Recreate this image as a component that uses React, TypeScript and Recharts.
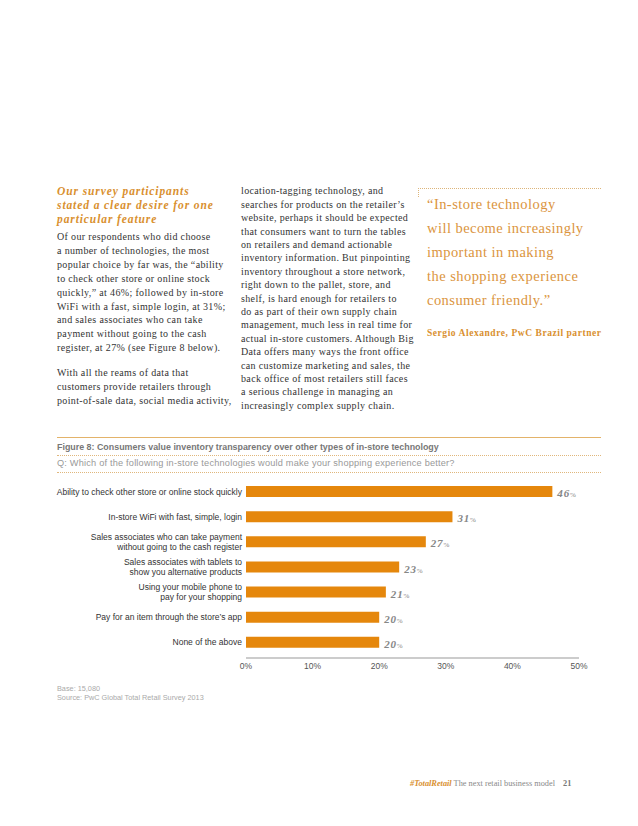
import React from 'react';
import { BarChart, Bar, XAxis, YAxis, LabelList } from 'recharts';

const categories = [
  'Ability to check other store or online stock quickly',
  'In-store WiFi with fast, simple, login',
  'Sales associates who can take payment\nwithout going to the cash register',
  'Sales associates with tablets to\nshow you alternative products',
  'Using your mobile phone to\npay for your shopping',
  "Pay for an item through the store\u2019s app",
  'None of the above',
];
const values = [46, 31, 27, 23, 21, 20, 20];
const xTicks = [0, 10, 20, 30, 40, 50];

const headingLines = ['Our survey participants', 'stated a clear desire for one', 'particular feature'];
const leftPara1 = [
  'Of our respondents who did choose',
  'a number of technologies, the most',
  'popular choice by far was, the \u201cability',
  'to check other store or online stock',
  'quickly,\u201d at 46%; followed by in-store',
  'WiFi with a fast, simple login, at 31%;',
  'and sales associates who can take',
  'payment without going to the cash',
  'register, at 27% (see Figure 8 below).',
];
const leftPara2 = [
  'With all the reams of data that',
  'customers provide retailers through',
  'point-of-sale data, social media activity,',
];
const middleLines = [
  'location-tagging technology, and',
  'searches for products on the retailer\u2019s',
  'website, perhaps it should be expected',
  'that consumers want to turn the tables',
  'on retailers and demand actionable',
  'inventory information. But pinpointing',
  'inventory throughout a store network,',
  'right down to the pallet, store, and',
  'shelf, is hard enough for retailers to',
  'do as part of their own supply chain',
  'management, much less in real time for',
  'actual in-store customers. Although Big',
  'Data offers many ways the front office',
  'can customize marketing and sales, the',
  'back office of most retailers still faces',
  'a serious challenge in managing an',
  'increasingly complex supply chain.',
];
const quoteLines = [
  '\u201cIn-store technology',
  'will become increasingly',
  'important in making',
  'the shopping experience',
  'consumer friendly.\u201d',
];

const data = categories.map((name, i) => ({ name, value: values[i] }));

const ORANGE = '#E5870C';
const TEXT_ORANGE = '#D9902F';
const SERIF = '"Liberation Serif", "Times New Roman", serif';
const SANS = '"Liberation Sans", Arial, sans-serif';

const CategoryTick = (props: any) => {
  const { x, y, payload } = props;
  const lines: string[] = String(payload.value).split('\n');
  const lh = 10;
  const start = y - ((lines.length - 1) * lh) / 2;
  return (
    <text x={x} y={start} textAnchor="end" fill="#333" fontSize={8.5} fontFamily={SANS}>
      {lines.map((l, i) => (
        <tspan key={i} x={x} y={start + i * lh} dy="0.35em">{l}</tspan>
      ))}
    </text>
  );
};

const ValueLabel = (props: any) => {
  const { x, y, width, height, value } = props;
  return (
    <text x={x + width + 5} y={y + height / 2} dy="0.35em" fill="#868686" fontFamily={SERIF}>
      <tspan fontSize={11} fontWeight="bold" fontStyle="italic" letterSpacing={0.8}>{value}</tspan>
      <tspan fontSize={7}>%</tspan>
    </text>
  );
};

const Lines = ({ lines, top, left, lh, style }: any) => (
  <div style={{ position: 'absolute', top, left, lineHeight: `${lh}px`, whiteSpace: 'nowrap', ...style }}>
    {lines.map((l: string, i: number) => (
      <div key={i}>{l}</div>
    ))}
  </div>
);

const bodyStyle = { fontFamily: SERIF, fontSize: 10, color: '#333', letterSpacing: 0.35 };

const App = () => {
  return (
    <div style={{ position: 'absolute', left: 0, top: 0, width: 638, height: 826, background: '#fff', overflow: 'hidden' }}>
      {/* left column */}
      <Lines lines={headingLines} top={184} left={57} lh={14}
        style={{ fontFamily: SERIF, fontSize: 11.5, fontWeight: 'bold', fontStyle: 'italic', color: TEXT_ORANGE, letterSpacing: 0.9 }} />
      <Lines lines={leftPara1} top={230} left={57} lh={13.9} style={bodyStyle} />
      <Lines lines={leftPara2} top={366} left={57} lh={13.9} style={bodyStyle} />

      {/* middle column */}
      <Lines lines={middleLines} top={184.3} left={241} lh={13.4} style={bodyStyle} />

      {/* quote */}
      <div style={{ position: 'absolute', left: 418, top: 188, width: 183, borderTop: '1px dotted #DDB57A' }} />
      <div style={{ position: 'absolute', left: 418, top: 188, height: 9, borderLeft: '1px dotted #DDB57A' }} />
      <Lines lines={quoteLines} top={192} left={427} lh={24}
        style={{ fontFamily: SERIF, fontSize: 14.5, color: '#DB9540', letterSpacing: 0.45 }} />
      <Lines lines={['Sergio Alexandre, PwC Brazil partner']} top={326} left={427} lh={14}
        style={{ fontFamily: SERIF, fontSize: 9.5, fontWeight: 'bold', color: TEXT_ORANGE, letterSpacing: 0.55 }} />

      {/* figure header */}
      <div style={{ position: 'absolute', left: 57, top: 437, width: 544, borderTop: '1.5px solid #E3B36A' }} />
      <Lines lines={['Figure 8: Consumers value inventory transparency over other types of in-store technology']}
        top={441} left={57} lh={12} style={{ fontFamily: SANS, fontSize: 8.9, fontWeight: 'bold', color: '#777' }} />
      <div style={{ position: 'absolute', left: 57, top: 455, width: 544, borderTop: '1px dotted #E0B77C' }} />
      <Lines lines={['Q: Which of the following in-store technologies would make your shopping experience better?']}
        top={457} left={57} lh={12} style={{ fontFamily: SANS, fontSize: 9.2, color: '#999', letterSpacing: 0.2 }} />
      <div style={{ position: 'absolute', left: 57, top: 472, width: 544, borderTop: '1px dotted #E0B77C' }} />

      {/* chart */}
      <div style={{ position: 'absolute', left: 0, top: 478 }}>
        <BarChart width={638} height={200} data={data} layout="vertical"
          margin={{ top: 1, right: 59, left: 0, bottom: 0 }}>
          <XAxis type="number" domain={[0, 50]} ticks={xTicks} interval={0}
            tickFormatter={(v: number) => `${v}%`}
            axisLine={{ stroke: '#999' }} tickLine={false} tickSize={3} tickMargin={2} height={20}
            tick={{ fill: '#555', fontSize: 8.5, fontFamily: SANS }} />
          <YAxis type="category" dataKey="name" width={246} axisLine={false} tickLine={false}
            tickSize={0} tickMargin={4} interval={0} padding={{ top: 0, bottom: 3 }}
            tick={<CategoryTick />} />
          <Bar dataKey="value" fill={ORANGE} barSize={11} isAnimationActive={false}>
            <LabelList dataKey="value" content={<ValueLabel />} />
          </Bar>
        </BarChart>
      </div>

      {/* notes */}
      <Lines lines={['Base: 15,080', 'Source: PwC Global Total Retail Survey 2013']} top={684} left={57} lh={9}
        style={{ fontFamily: SANS, fontSize: 7.3, color: '#aaa' }} />

      {/* footer */}
      <div style={{ position: 'absolute', left: 410, top: 778, whiteSpace: 'nowrap', fontFamily: SERIF, fontSize: 8.3, lineHeight: '12px' }}>
        <span style={{ color: TEXT_ORANGE, fontWeight: 'bold', fontStyle: 'italic' }}>#TotalRetail</span>
        <span style={{ color: '#888' }}> The next retail business model</span>
      </div>
      <div style={{ position: 'absolute', left: 563, top: 778, fontFamily: SERIF, fontSize: 8.3, lineHeight: '12px', fontWeight: 'bold', color: '#777' }}>21</div>
    </div>
  );
};

export default App;
